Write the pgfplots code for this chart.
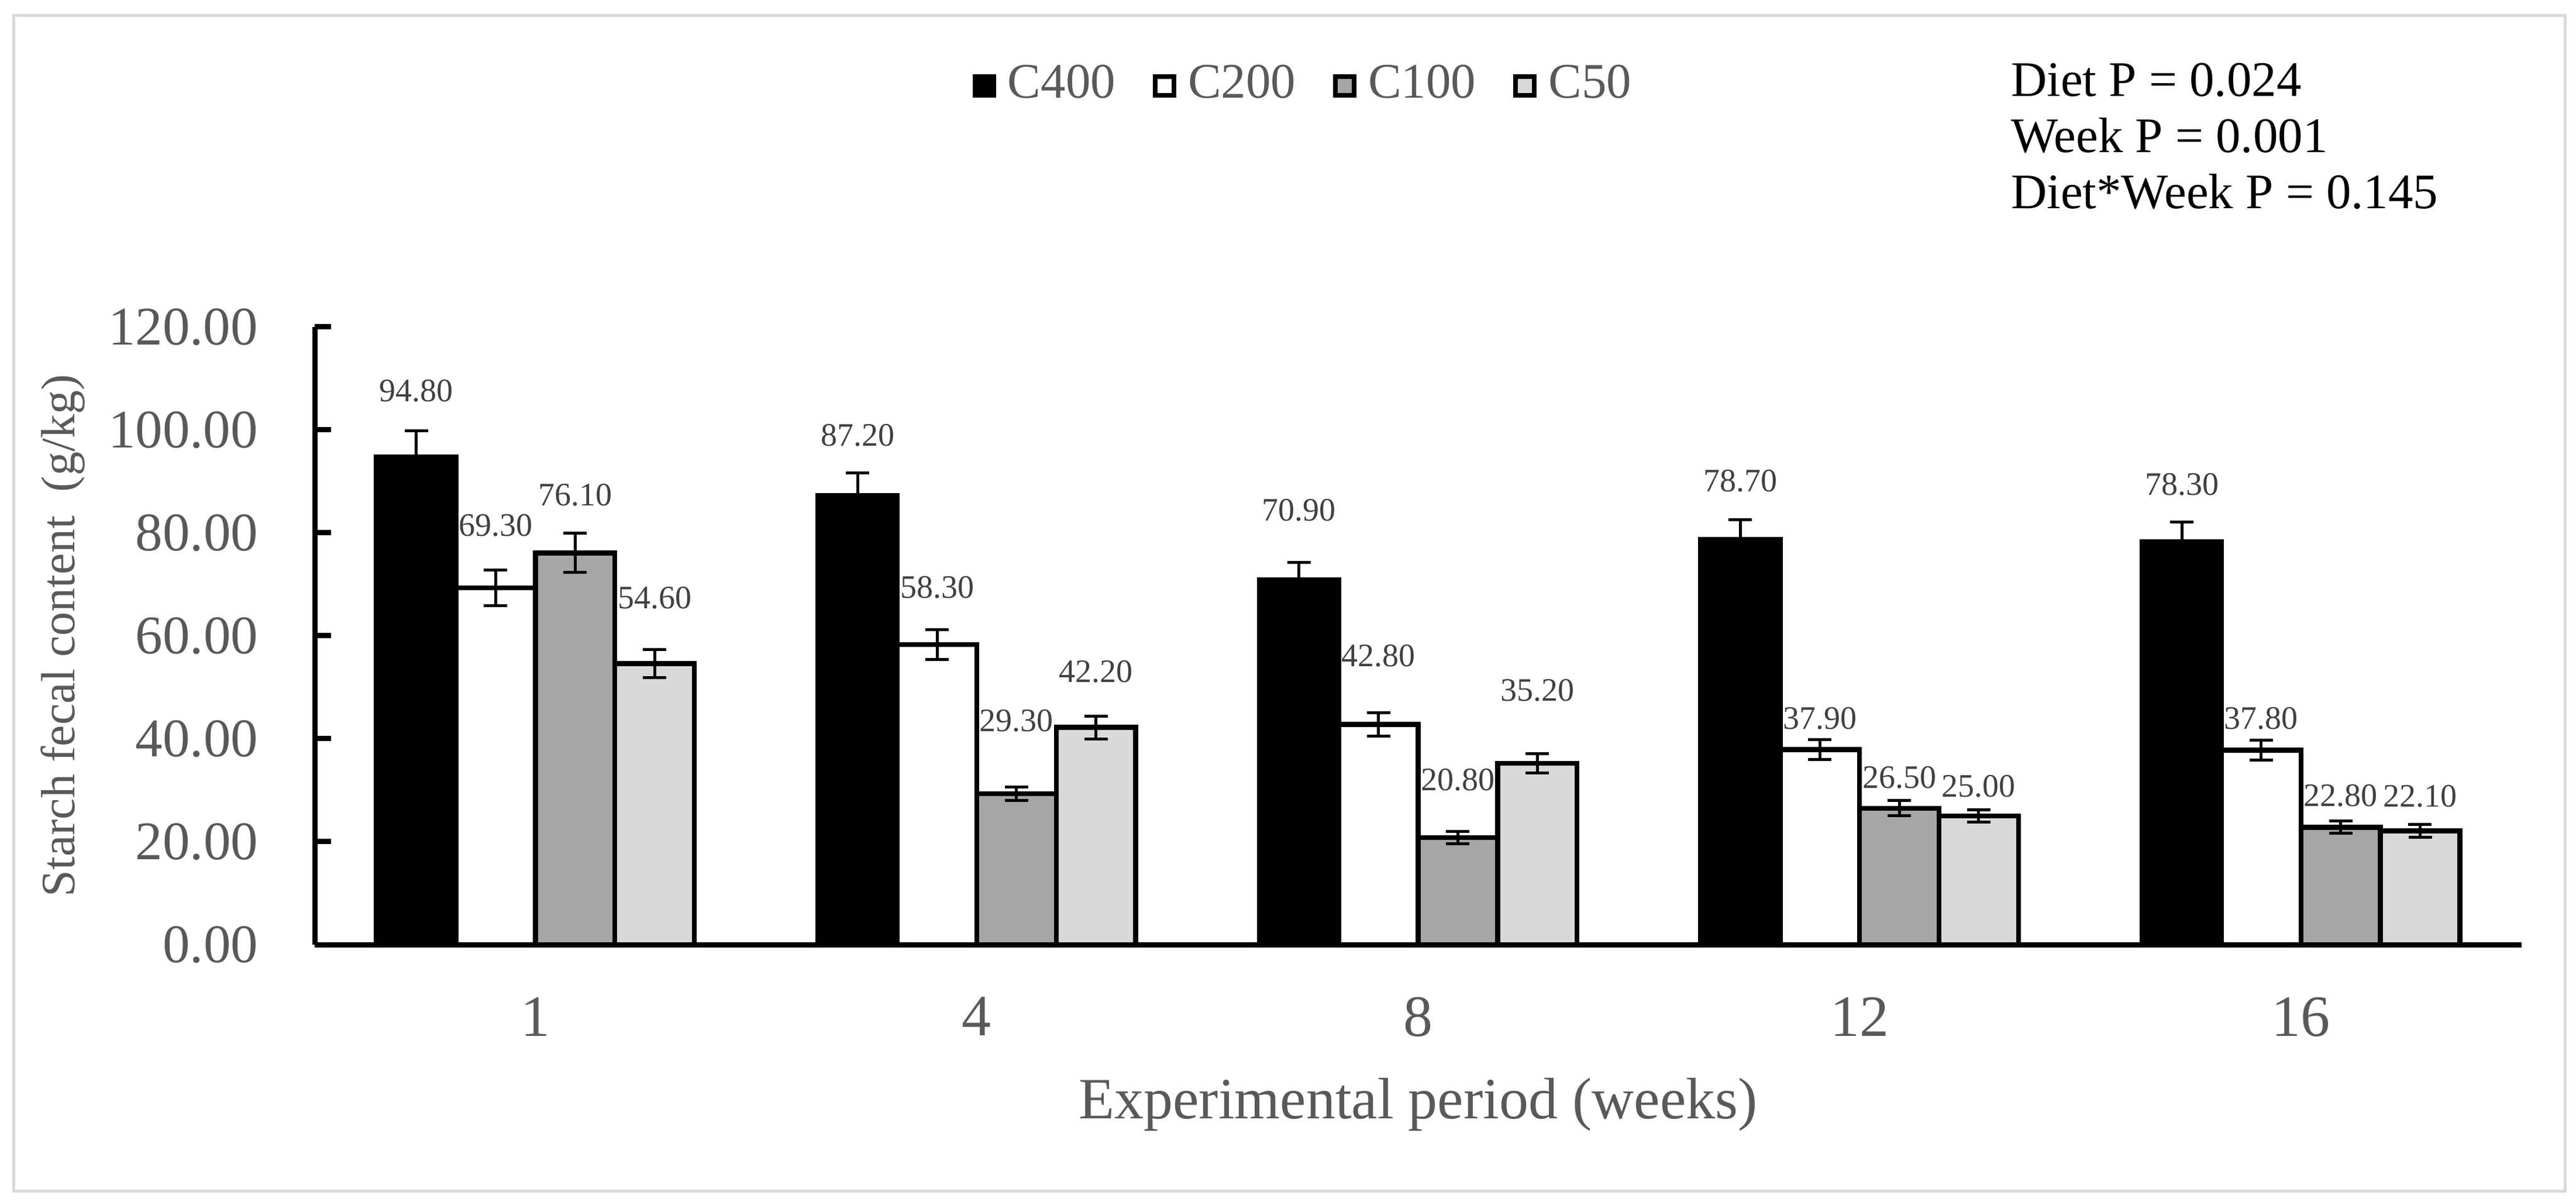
\documentclass[border=0pt]{standalone}
\usepackage{fontspec}
\setmainfont{Liberation Serif}
\usepackage{pgfplots}
\usepackage{pgfplotstable}
\pgfplotsset{compat=1.18}

\definecolor{tickgray}{HTML}{595959}
\definecolor{valgray}{HTML}{404040}
\definecolor{midgray}{HTML}{A6A6A6}
\definecolor{palegray}{HTML}{D9D9D9}
\definecolor{framegray}{HTML}{D9D9D9}

% x = week index, y = mean, e = error, d = label offset above bar
\pgfplotstableread{
x y e d
0 94.8 5.0 12.8
1 87.2 4.4 11.8
2 70.9 3.4 13.5
3 78.7 3.8 11.4
4 78.3 3.8 11.1
}\cfourhundred
\pgfplotstableread{
x y e d
0 69.3 3.5 12.2
1 58.3 2.9 11.1
2 42.8 2.3 13.3
3 37.9 1.9 6.0
4 37.8 1.9 6.1
}\ctwohundred
\pgfplotstableread{
x y e d
0 76.1 3.8 11.2
1 29.3 1.3 14.2
2 20.8 1.2 11.2
3 26.5 1.5 6.0
4 22.8 1.2 6.1
}\conehundred
\pgfplotstableread{
x y e d
0 54.6 2.7 12.7
1 42.2 2.2 10.8
2 35.2 1.9 14.2
3 25.0 1.2 5.8
4 22.1 1.2 6.7
}\cfifty

\pgfplotsset{
  bars/.style={line width=0.85pt, draw=black,
    error bars/y dir=both, error bars/y explicit,
    error bars/error bar style={black, line width=0.5pt},
    error bars/error mark options={rotate=90, black, mark size=2pt, line width=0.5pt}},
  vallabels/.style={sharp plot, draw=none, mark=none, forget plot, bar shift=0pt,
    nodes near coords={\pgfmathprintnumber[fixed, fixed zerofill, precision=2]{\pgfplotspointmeta}},
    point meta=explicit,
    every node near coord/.append style={anchor=center,
      font=\fontsize{5.6}{6}\selectfont, text=valgray, inner sep=0pt}},
}

\begin{document}
\begin{tikzpicture}
\path[use as bounding box] (-53.8pt,-44.0pt) rectangle (386.6pt,161.5pt);
\draw[framegray, line width=0.5pt] (-51.4pt,-42.1pt) rectangle (384.7pt,158.8pt);
\begin{axis}[
  width=377.3pt, height=105.6pt, scale only axis,
  ybar=0pt, bar width=0.18,
  xmin=-0.5, xmax=4.5, ymin=0, ymax=120,
  enlargelimits=false, clip=false,
  axis x line*=bottom, axis y line*=left,
  axis line style={line width=0.9pt, black},
  xtick={0,1,2,3,4}, xticklabels={1,4,8,12,16},
  ytick={0,20,...,120},
  tick align=inside, major tick length=2.8pt,
  y tick style={line width=0.9pt, black},
  x tick style={draw=none},
  /pgf/number format/assume math mode=true,
  yticklabel style={/pgf/number format/.cd, fixed, fixed zerofill, precision=2, /tikz/.cd,
    font=\fontsize{9.3}{10}\selectfont, text=tickgray, inner sep=0pt, xshift=-9.5pt},
  xticklabel style={font=\fontsize{10}{11}\selectfont, text=tickgray, inner sep=0pt, yshift=-8.8pt},
  xlabel={Experimental period (weeks)},
  ylabel={Starch fecal content\ \ (g/kg)},
  x label style={at={(axis description cs:0.5,-0.214)}, anchor=north, inner sep=0pt,
    font=\fontsize{10}{11}\selectfont, text=tickgray},
  y label style={at={(axis description cs:-0.1142,0.5)}, anchor=center, inner sep=0pt,
    font=\fontsize{8.2}{9}\selectfont, text=tickgray},
  legend columns=4,
  legend style={draw=none, fill=none, at={(0.2976,1.390)}, anchor=west, inner sep=0pt,
    font=\fontsize{8.5}{9}\selectfont, text=tickgray,
    /tikz/every even column/.append style={column sep=4.4pt}},
  every axis plot post/.append style={
    legend image code/.code={\draw[##1, line width=0.8pt] (0.4pt,-1.6pt) rectangle (3.6pt,1.6pt);}},
]
\addplot[bars, fill=black, bar shift=-0.27]
  table[x=x, y=y, y error=e] {\cfourhundred};
\addplot[bars, fill=white, bar shift=-0.09]
  table[x=x, y=y, y error=e] {\ctwohundred};
\addplot[bars, fill=midgray, bar shift=0.09]
  table[x=x, y=y, y error=e] {\conehundred};
\addplot[bars, fill=palegray, bar shift=0.27]
  table[x=x, y=y, y error=e] {\cfifty};
\legend{C400, C200, C100, C50}
% value labels: same numbers, placed above each bar
\addplot[vallabels] table[x expr=\thisrow{x}-0.27, y expr=\thisrow{y}+\thisrow{d}, meta=y] {\cfourhundred};
\addplot[vallabels] table[x expr=\thisrow{x}-0.09, y expr=\thisrow{y}+\thisrow{d}, meta=y] {\ctwohundred};
\addplot[vallabels] table[x expr=\thisrow{x}+0.09, y expr=\thisrow{y}+\thisrow{d}, meta=y] {\conehundred};
\addplot[vallabels] table[x expr=\thisrow{x}+0.27, y expr=\thisrow{y}+\thisrow{d}, meta=y] {\cfifty};
\node[anchor=north west, align=left, inner sep=0pt, font=\fontsize{8.5}{9.6}\selectfont]
  at (axis description cs:0.7681,1.429) {Diet P = 0.024\\Week P = 0.001\\Diet*Week P = 0.145};
\end{axis}
\end{tikzpicture}
\end{document}
